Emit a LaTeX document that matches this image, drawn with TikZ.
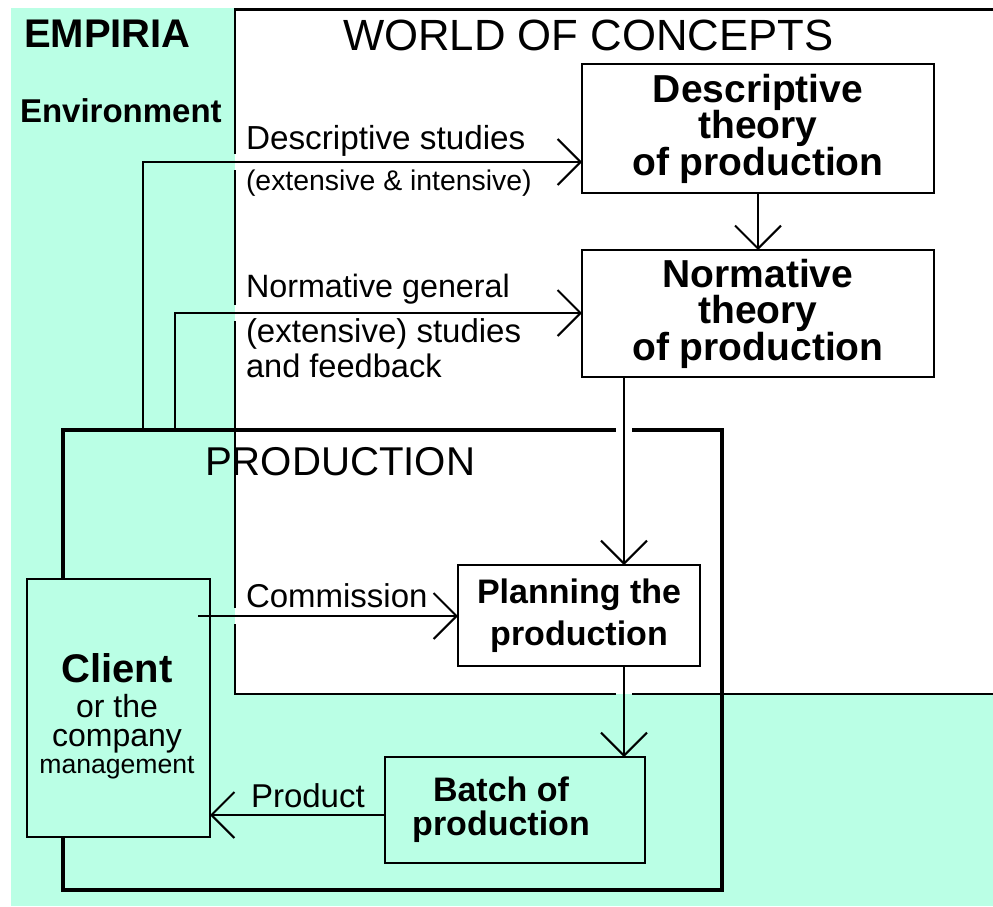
\documentclass[tikz,border=0pt]{standalone}
\usepackage{fontspec}
\setmainfont{Liberation Sans}
\usetikzlibrary{arrows.meta}
\definecolor{empiria}{RGB}{186,255,229}
\begin{document}
\begin{tikzpicture}[x=1pt, y=-1pt,
  every node/.style={inner sep=0pt, outer sep=0pt},
  rule/.style={line width=2pt},
  prodframe/.style={line width=4.6pt},
  box/.style={draw, line width=2pt, inner sep=0pt, align=center},
  theory/.style={box, fill=white, minimum width=352pt,
    font=\bfseries\fontsize{39}{36.5}\selectfont},
  arr/.style={line width=2pt, -{Straight Barb[length=23pt, width=46pt]}},
  lbl/.style={anchor=base west, font=\fontsize{33}{36}\selectfont},
]
\useasboundingbox (0,0) rectangle (993,906);

% empirical environment and the world of concepts
\fill[empiria] (11,8) rectangle (993,906);
\fill[white] (235,9) rectangle (993,694);
\draw[line width=3pt] (234,9.5) -- (993,9.5);
\draw[rule] (235,9.5) -- (235,154) (235,170) -- (235,305) (235,321) -- (235,608)
            (235,624) -- (235,694) -- (616,694) (632,694) -- (993,694);

% production frame
\draw[prodframe] (63,603) -- (63,430) -- (616,430);
\draw[prodframe] (632,430) -- (722,430) -- (722,890) -- (63,890) -- (63,798);

% titles
\node[anchor=base west, font=\bfseries\fontsize{40}{44}\selectfont] (empiria) at (24,47) {EMPIRIA};
\node[anchor=base west, font=\bfseries\fontsize{33}{36}\selectfont] (environment) at (20,122) {Environment};
\node[anchor=base west, font=\fontsize{43.7}{48}\selectfont] (concepts) at (343,50) {WORLD OF CONCEPTS};
\node[anchor=base west, font=\fontsize{40.2}{44}\selectfont] (production) at (205,475) {PRODUCTION};

% boxes
\node[theory, minimum height=129pt] (desc) at (758,128.5) {Descriptive\\theory\\of production};
\node[theory, minimum height=127pt] (norm) at (758,313.5) {Normative\\theory\\of production};
\node[box, fill=white, minimum width=242pt, minimum height=101pt,
      font=\bfseries\fontsize{34}{42}\selectfont] (plan) at (579,615.5) {Planning the\\production};
\node[box, fill=empiria, minimum width=260pt, minimum height=106pt,
      label={[font=\bfseries\fontsize{34}{34}\selectfont, align=center, xshift=-14pt]center:{Batch of\\production}}]
      (batch) at (515,810) {};
\node[box, fill=empiria, minimum width=183pt, minimum height=258pt] (client) at (118.5,708) {};
\node[anchor=north, align=center, font=\fontsize{32}{28}\selectfont] (clienttext) at (117,654)
  {{\bfseries\fontsize{40}{35}\selectfont Client}\\[7pt]or the\\company\\{\fontsize{26.6}{28}\selectfont management}};

% connector end points
\coordinate (np) at (624,0);
\coordinate (ds) at (143,430);
\coordinate (ns) at (175,430);
\coordinate (dy) at (0,162);
\coordinate (ny) at (0,313);
\coordinate (cm) at (198,616);
\coordinate (py) at (0,815);

% connectors
\draw[arr] (desc.south) -- (norm.north);
\draw[arr] (norm.south -| np) -- (plan.north -| np);
\draw[arr] (plan.south -| np) -- (batch.north -| np);
\draw[arr] (ds) |- (desc.west |- dy);
\draw[arr] (ns) |- (norm.west |- ny);
\draw[arr] (cm) -- (plan.west |- cm);
\draw[arr] (batch.west |- py) -- (client.east |- py);

% connector labels
\node[lbl, font=\fontsize{33.3}{36}\selectfont] (dstudies) at (246,149) {Descriptive studies};
\node[lbl, font=\fontsize{28.4}{32}\selectfont] (dkind) at (246,190) {(extensive \& intensive)};
\node[lbl, font=\fontsize{32.3}{36}\selectfont] (ngeneral) at (246,297) {Normative general};
\node[lbl] (nkind) at (246,342) {(extensive) studies};
\node[lbl, font=\fontsize{32.6}{36}\selectfont] (nfeed) at (246,377) {and feedback};
\node[lbl] (commission) at (246,607) {Commission};
\node[lbl] (product) at (251,807) {Product};
\end{tikzpicture}
\end{document}
